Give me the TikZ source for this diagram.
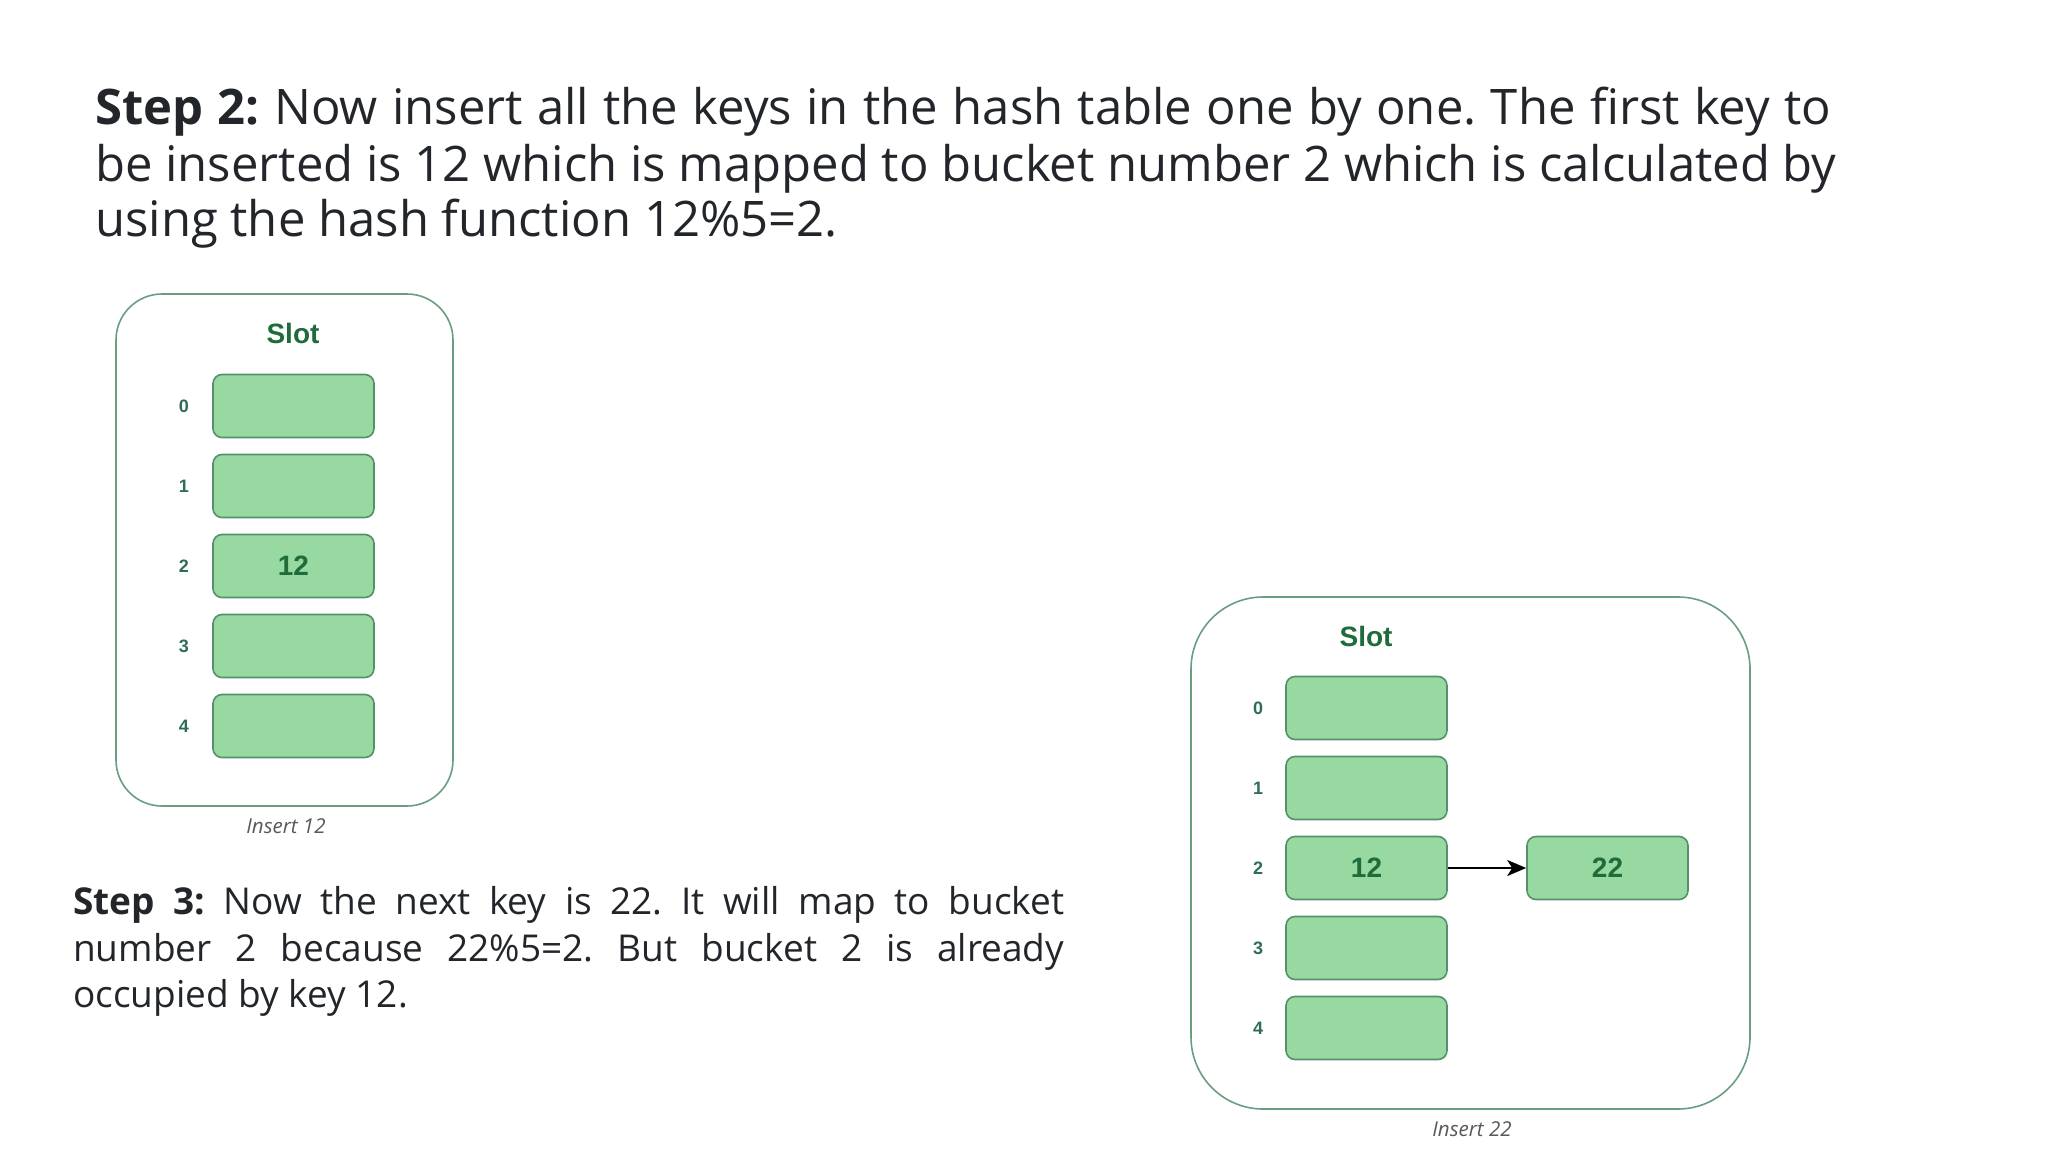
\documentclass[tikz,border=0pt]{standalone}
\usepackage{fontspec}
\setmainfont{Open Sans}
\newfontfamily\arialf{Liberation Sans}
\usetikzlibrary{arrows.meta}
\definecolor{slotfill}{HTML}{97D9A1}
\definecolor{slotdraw}{HTML}{55906A}
\definecolor{boxdraw}{HTML}{6A9E80}
\definecolor{darkgreen}{HTML}{1F6B3C}
\definecolor{idxcol}{HTML}{2F6D55}
\definecolor{txt}{HTML}{22262A}
\frenchspacing
\begin{document}
\begin{tikzpicture}[x=1pt,y=-1pt,
  slotbox/.style={draw=slotdraw, fill=slotfill, line width=1.6pt, rounded corners=9pt, minimum width=161pt, minimum height=63pt, inner sep=0pt, font=\arialf\bfseries\fontsize{28}{28}\selectfont, text=darkgreen},
  outerbox/.style={draw=boxdraw, line width=1.6pt, inner sep=0pt},
  idx/.style={font=\arialf\bfseries\fontsize{18}{18}\selectfont, text=idxcol},
  slothead/.style={font=\arialf\bfseries\fontsize{28}{28}\selectfont, text=darkgreen},
  capt/.style={font=\itshape\fontsize{20.5}{20.5}\selectfont, text=black!65},
  hline/.style={anchor=base west, inner sep=0pt, font=\fontsize{49}{56}\selectfont, text=txt},
  pline/.style={anchor=base west, inner sep=0pt, font=\fontsize{37}{46}\selectfont, text=txt}]
\useasboundingbox (0,0) rectangle (2048,1152);
\fill[white] (0,0) rectangle (2048,1152);

% heading
\node[hline] (h1) at (95,124) {\makebox[1736pt][s]{\textbf{Step 2:} Now insert all the keys in the hash table one by one. The first key to}};
\node[hline] (h2) at (95,181) {be inserted is 12 which is mapped to bucket number 2 which is calculated by};
\node[hline] (h3) at (95,236) {using the hash function 12\%5=2.};

% box 1
\node[outerbox, minimum width=337pt, minimum height=512pt, rounded corners=46pt] (box1) at (284.5,550) {};
\node[slothead] (head1) at (293,333) {Slot};
\foreach \i/\t in {0/,1/,2/12,3/,4/} {
  \node[slotbox] (a\i) at (293.5,{406+80*\i}) {\t};
  \node[idx] (ai\i) at (184,{406+80*\i}) {\i};
}
\node[capt] (cap1) at (286,826) {Insert 12};

% step 3 text
\node[pline] (p1) at (73,914) {\makebox[991pt][s]{\textbf{Step 3:} Now the next key is 22. It will map to bucket}};
\node[pline] (p2) at (73,961) {\makebox[991pt][s]{number 2 because 22\%5=2. But bucket 2 is already}};
\node[pline] (p3) at (73,1007) {occupied by key 12.};

% box 2
\node[outerbox, minimum width=559pt, minimum height=512pt, rounded corners=72pt] (box2) at (1470.5,853) {};
\node[slothead] (head2) at (1366,636) {Slot};
\foreach \i/\t in {0/,1/,2/12,3/,4/} {
  \node[slotbox] (b\i) at (1366.5,{708+80*\i}) {\t};
  \node[idx] (bi\i) at (1258,{708+80*\i}) {\i};
}
\node[slotbox] (k22) at (1607.5,868) {22};
\draw[-{Stealth[length=19pt,width=16pt,inset=5pt]}, line width=2.6pt, black] (b2.east) -- (k22.west);
\node[capt] (cap2) at (1472,1129) {Insert 22};
\end{tikzpicture}
\end{document}
